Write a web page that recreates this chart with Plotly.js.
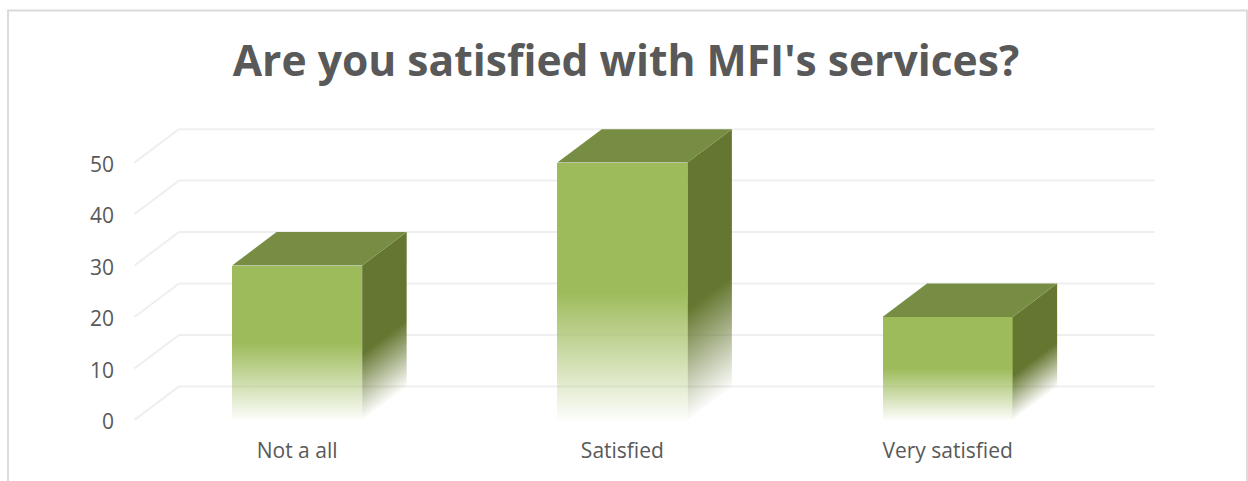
<!DOCTYPE html>
<html>
<head>
<meta charset="utf-8">
<script src="https://cdn.plot.ly/plotly-3.0.1.min.js"></script>
<style>html,body{margin:0;padding:0;background:#fff;overflow:hidden}#chart{width:1248px;height:481px}</style>
</head>
<body>
<div id="chart"></div>
<script>
var categories = ["Not a all", "Satisfied", "Very satisfied"];
var values = [30, 50, 20];
var yTicks = [0, 10, 20, 30, 40, 50];
var categoryPositions = [0, 1, 2];

var barWidth = 0.4;
var depthX = 0.1368;
var depthY = 6.5;
var textColor = "#595959";
var gridColor = "#efefef";
var frontColor = "#9dbb5a";
var sideColor = "#64762f";
var topColor = "#778d44";
var fontFamily = '"Open Sans", sans-serif';

var traces = [];
traces.push({
  type: "bar", x: categoryPositions, y: values, width: barWidth,
  marker: {color: frontColor, line: {width: 0}}, hoverinfo: "skip", showlegend: false
});
categoryPositions.forEach(function (c, i) {
  var r = c + barWidth / 2, v = values[i];
  traces.push({
    type: "scatter", mode: "lines", fill: "toself", fillcolor: sideColor, line: {width: 0},
    x: [r, r + depthX, r + depthX, r, r], y: [v, v + depthY, depthY, 0, v],
    hoverinfo: "skip", showlegend: false
  });
});
categoryPositions.forEach(function (c, i) {
  var r = c + barWidth / 2, l = c - barWidth / 2, v = values[i];
  traces.push({
    type: "scatter", mode: "lines", fill: "toself", fillcolor: topColor, line: {width: 0},
    x: [l, l + depthX, r + depthX, r, l], y: [v, v + depthY, v + depthY, v, v],
    hoverinfo: "skip", showlegend: false
  });
});

var plotLeft = 128, plotRight = 1159, plotWidth = plotRight - plotLeft;
function paperX(px) { return (px - plotLeft) / plotWidth; }

var shapes = [];
yTicks.forEach(function (t) {
  var gl = {color: gridColor, width: 2};
  shapes.push({type: "line", layer: "below", xref: "x", yref: "y", x0: -0.5, y0: t, x1: -0.5 + depthX, y1: t + depthY, line: gl});
  shapes.push({type: "line", layer: "below", xref: "x", yref: "y", x0: -0.5 + depthX, y0: t + depthY, x1: 2.5 + depthX, y1: t + depthY, line: gl});
});
shapes.push({
  type: "rect", layer: "below", xref: "paper", yref: "paper",
  x0: paperX(8), x1: paperX(1247), y0: -1, y1: (425 - 10.5) / 301,
  line: {color: "#d9d9d9", width: 1.8}, fillcolor: "rgba(0,0,0,0)"
});

var layout = {
  width: 1248, height: 481,
  margin: {l: plotLeft, r: 1248 - plotRight, t: 124, b: 56, pad: 0},
  paper_bgcolor: "#fff", plot_bgcolor: "rgba(0,0,0,0)",
  showlegend: false, hovermode: false, bargap: 0,
  title: {
    text: "Are you satisfied with MFI's services?",
    x: 626 / 1248, xanchor: "center", xref: "container",
    y: 1 - 61 / 481, yanchor: "middle", yref: "container",
    font: {family: fontFamily, size: 42.6, color: textColor, weight: 700}
  },
  xaxis: {
    range: [-0.52, 2.65], tickmode: "array", tickvals: categoryPositions, ticktext: categories,
    showgrid: false, zeroline: false, showline: false, ticks: "", ticklabelstandoff: 11,
    tickfont: {family: fontFamily, size: 21, color: textColor}, fixedrange: true
  },
  yaxis: {
    range: [-1, 57.5], tickmode: "array", tickvals: yTicks, ticktext: yTicks.map(String),
    showgrid: false, zeroline: false, showline: false, ticks: "", ticklabelstandoff: 13, ticklabelshift: 2,
    tickfont: {family: fontFamily, size: 21, color: textColor}, fixedrange: true
  },
  shapes: shapes
};

function svgEl(name, attrs) {
  var e = document.createElementNS("http://www.w3.org/2000/svg", name);
  for (var k in attrs) e.setAttribute(k, attrs[k]);
  return e;
}
function addStops(g, color, stops) {
  stops.forEach(function (s) {
    g.appendChild(svgEl("stop", {offset: s[0], "stop-color": color, "stop-opacity": s[1]}));
  });
}
var frontStops = [[0, 1], [0.5, 1], [0.58, 0.85], [0.75, 0.52], [0.9, 0.22], [1, 0.03]];
var sideStops = [[0, 1], [0.57, 1], [0.75, 0.6], [0.9, 0.25], [1, 0.02]];

var gd = document.getElementById("chart");
Plotly.newPlot(gd, traces, layout, {displayModeBar: false, staticPlot: true}).then(function () {
  var defs = gd.querySelector("svg.main-svg defs");
  var xa = gd._fullLayout.xaxis, ya = gd._fullLayout.yaxis;

  var front = svgEl("linearGradient", {id: "frontFade", x1: 0, y1: 0, x2: 0, y2: 1});
  addStops(front, frontColor, frontStops);
  defs.appendChild(front);
  gd.querySelectorAll(".barlayer .point path").forEach(function (p) { p.style.fill = "url(#frontFade)"; });

  var fills = gd.querySelectorAll(".scatterlayer .js-fill");
  categoryPositions.forEach(function (c, i) {
    var x0 = xa.l2p(c + barWidth / 2);
    var x1 = xa.l2p(c + barWidth / 2 + depthX);
    var yTop = ya.l2p(values[i]), yBase = ya.l2p(0), yDepth = ya.l2p(depthY);
    var tan = (yDepth - yBase) / (x1 - x0);
    var angle = Math.atan(tan) * 180 / Math.PI;
    var g = svgEl("linearGradient", {
      id: "sideFade" + i, gradientUnits: "userSpaceOnUse", x1: x0, x2: x0, y1: yTop, y2: yBase,
      gradientTransform: "translate(" + x0 + ",0) skewY(" + angle + ") translate(" + (-x0) + ",0)"
    });
    addStops(g, sideColor, sideStops);
    defs.appendChild(g);
    if (fills[i]) fills[i].style.fill = "url(#sideFade" + i + ")";
  });
});
</script>
</body>
</html>
